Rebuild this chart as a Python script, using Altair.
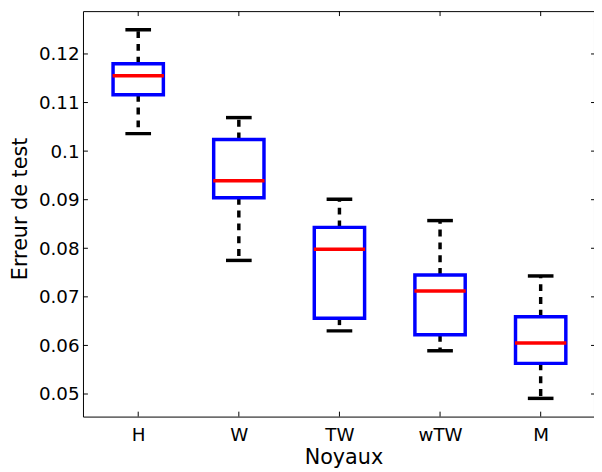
import altair as alt
import pandas as pd

names = ["H", "W", "TW", "wTW", "M"]
pos = [1, 2, 3, 4, 5]
w_low = [0.1036, 0.0775, 0.0630, 0.0589, 0.0491]
q1 = [0.1116, 0.0904, 0.0656, 0.0622, 0.0563]
med = [0.1155, 0.0939, 0.0798, 0.0712, 0.0605]
q3 = [0.1180, 0.1024, 0.0843, 0.0745, 0.0659]
w_high = [0.1250, 0.1069, 0.0901, 0.0857, 0.0743]
yticks = [0.05, 0.06, 0.07, 0.08, 0.09, 0.10, 0.11, 0.12]

df = pd.DataFrame(dict(pos=pos, name=names, lo=w_low, q1=q1, med=med, q3=q3, hi=w_high))
ty = pd.DataFrame({"v": yticks})
tx = pd.DataFrame({"p": pos})

W, H = 518, 411
FONT = "DejaVu Sans"
xscale = alt.Scale(domain=[0.5, 5.481], nice=False, zero=False)
yscale = alt.Scale(domain=[0.04535, 0.12882], nice=False, zero=False)

label_expr = "[" + ",".join("'%s'" % n for n in names) + "][datum.value-1]"
xaxis = alt.Axis(values=pos, labelExpr=label_expr, title="Noyaux", ticks=False, tickSize=0,
                 domain=False, grid=False, labelFont=FONT, labelFontSize=18.5, labelColor="black",
                 labelPadding=24, labelBaseline="alphabetic", labelFlush=False, labelOverlap=False,
                 titleFont=FONT, titleFontSize=21, titleFontWeight="normal", titleColor="black",
                 titleY=48, titleX=264, titleBaseline="alphabetic")
yaxis = alt.Axis(values=yticks, format=".2~f", title="Erreur de test", ticks=False, tickSize=0,
                 domain=False, grid=False, labelFont=FONT, labelFontSize=18.5, labelColor="black",
                 labelPadding=4, labelBaseline="middle", labelFlush=False, labelOverlap=False,
                 titleFont=FONT, titleFontSize=21, titleFontWeight="normal", titleColor="black",
                 titleX=-57, titleY=200, titleBaseline="alphabetic", titleAngle=-90)

X = alt.X("pos:Q", scale=xscale, axis=xaxis)
base = alt.Chart(df)

whisk_hi = base.mark_rule(color="black", opacity=1, strokeWidth=3.5, strokeDash=[7, 6]).encode(
    x=X, y=alt.Y("q3:Q", scale=yscale, axis=yaxis), y2="hi:Q")
whisk_lo = base.mark_rule(color="black", opacity=1, strokeWidth=3.5, strokeDash=[7, 6]).encode(
    x=X, y=alt.Y("q1:Q", scale=yscale, axis=yaxis), y2="lo:Q")
cap_hi = base.mark_tick(orient="horizontal", color="black", opacity=1, size=26, thickness=3.5).encode(
    x=X, y=alt.Y("hi:Q", scale=yscale, axis=yaxis))
cap_lo = base.mark_tick(orient="horizontal", color="black", opacity=1, size=26, thickness=3.5).encode(
    x=X, y=alt.Y("lo:Q", scale=yscale, axis=yaxis))
box = base.mark_bar(size=51, fillOpacity=0, stroke="#0000ff", strokeOpacity=1, strokeWidth=3.5).encode(
    x=X, y=alt.Y("q1:Q", scale=yscale, axis=yaxis), y2="q3:Q")
median = base.mark_tick(orient="horizontal", color="#ff0000", opacity=1, size=52, thickness=3.5).encode(
    x=X, y=alt.Y("med:Q", scale=yscale, axis=yaxis))

tick_left = alt.Chart(ty).mark_rule(color="black", strokeWidth=1).encode(
    y=alt.Y("v:Q", scale=yscale, axis=yaxis), x=alt.value(0), x2=alt.value(5))
tick_right = alt.Chart(ty).mark_rule(color="black", strokeWidth=1).encode(
    y=alt.Y("v:Q", scale=yscale, axis=yaxis), x=alt.value(W - 3), x2=alt.value(W))
tick_top = alt.Chart(tx).mark_rule(color="black", strokeWidth=1).encode(
    x=alt.X("p:Q", scale=xscale, axis=xaxis), y=alt.value(0), y2=alt.value(5))
tick_bot = alt.Chart(tx).mark_rule(color="black", strokeWidth=1).encode(
    x=alt.X("p:Q", scale=xscale, axis=xaxis), y=alt.value(H - 5), y2=alt.value(H))

chart = alt.layer(
    whisk_hi, whisk_lo, cap_hi, cap_lo, box, median,
    tick_left, tick_right, tick_top, tick_bot
).properties(
    width=W, height=H,
    autosize=alt.AutoSizeParams(type="none"),
    padding={"left": 76, "top": 0, "right": 0, "bottom": 53},
    background="white",
).configure_view(stroke="black", strokeWidth=1)

chart.save("out.html", embed_options={"renderer": "svg", "actions": False})
